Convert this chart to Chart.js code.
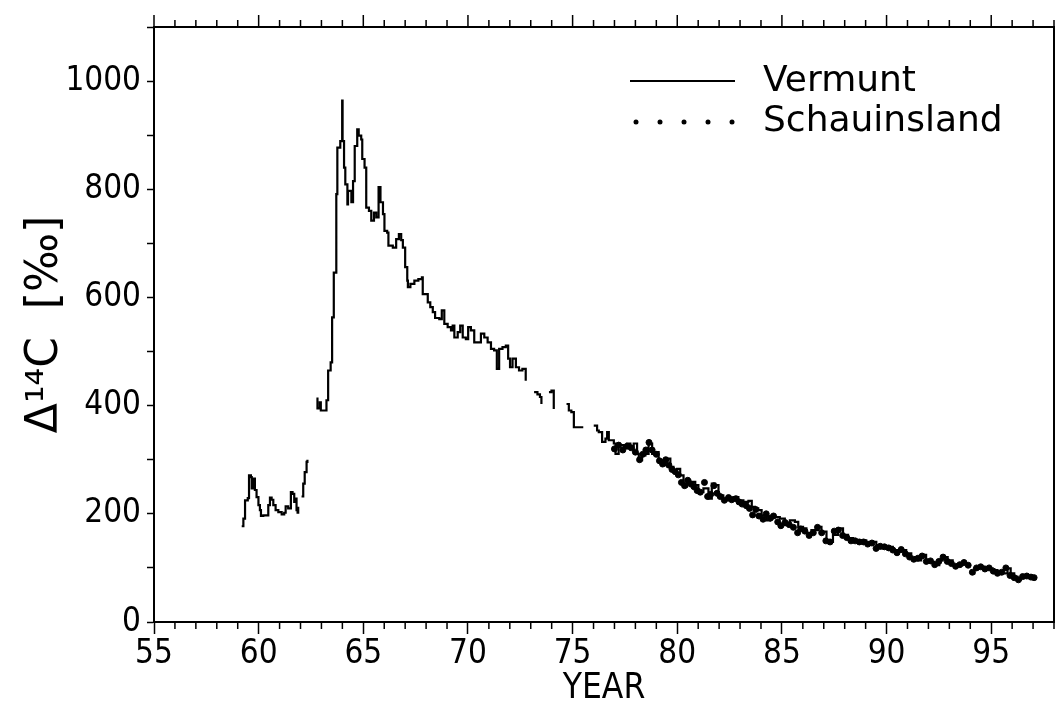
<!DOCTYPE html>
<html>
<head>
<meta charset="utf-8">
<script src="https://cdn.jsdelivr.net/npm/chart.js@4"></script>
<style>
  body { margin: 0; background: #fff; }
  canvas { display: block; }
</style>
</head>
<body>
<canvas id="c14Chart" width="1059" height="706"></canvas>
<script>
// Vermunt record (null = gap in the record)
const vermuntYears = [
  59.19, 59.27, 59.35, 59.48, 59.54, 59.63, 59.67, 59.75, 59.82, 59.90,
  59.99, 60.06, 60.11, 60.22, 60.38, 60.46, 60.54, 60.62, 60.70, 60.81,
  60.94, 61.10, 61.22, 61.29, 61.41, 61.49, 61.54, 61.62, 61.70, 61.76,
  61.81, 61.86, 61.89, 61.95, 62.05, 62.13, 62.20, 62.29, 62.33, 62.50,
  62.76, 62.81, 62.92, 62.97, 63.24, 63.32, 63.44, 63.51, 63.59, 63.71,
  63.76, 63.90, 63.99, 64.01, 64.08, 64.14, 64.24, 64.27, 64.43, 64.51,
  64.59, 64.71, 64.78, 64.90, 64.95, 65.06, 65.14, 65.27, 65.38, 65.51,
  65.62, 65.73, 65.82, 65.94, 66.01, 66.14, 66.20, 66.41, 66.57, 66.70,
  66.81, 66.89, 67.00, 67.10, 67.13, 67.25, 67.44, 67.63, 67.80, 67.84,
  67.92, 68.08, 68.20, 68.32, 68.43, 68.63, 68.75, 68.87, 69.03, 69.19,
  69.27, 69.35, 69.51, 69.63, 69.75, 69.90, 70.01, 70.14, 70.30, 70.49,
  70.62, 70.78, 70.94, 71.10, 71.25, 71.38, 71.49, 71.65, 71.81, 71.92,
  72.01, 72.13, 72.29, 72.44, 72.60, 72.76, 72.90, 73.16, 73.32, 73.44,
  73.51, 73.65, 73.87, 73.99, 74.10, 74.30, 74.71, 74.82, 74.94, 75.06,
  75.22, 75.51, 75.70, 76.01, 76.17, 76.25, 76.41, 76.57, 76.65, 76.73,
  76.97, 77.05, 77.20, 77.44, 77.60, 77.76, 77.92, 78.08, 78.16, 78.32,
  78.48, 78.63, 78.80, 78.95, 79.11, 79.27, 79.43, 79.54, 79.67, 79.82,
  79.99, 80.14, 80.30, 80.46, 80.62, 80.86, 81.01, 81.25, 81.49, 81.65,
  81.81, 81.97, 82.20, 82.44, 82.68, 82.92, 83.16, 83.40, 83.56, 83.71,
  83.87, 84.03, 84.27, 84.43, 84.67, 84.90, 85.14, 85.38, 85.62, 85.78,
  86.01, 86.17, 86.41, 86.73, 86.89, 87.13, 87.29, 87.44, 87.68, 87.92,
  88.16, 88.40, 88.63, 88.87, 89.03, 89.27, 89.51, 89.67, 89.90, 90.06,
  90.30, 90.54, 90.70, 90.94, 91.18, 91.41, 91.65, 91.89, 92.13, 92.29,
  92.52, 92.68, 92.92, 93.16, 93.40, 93.63, 93.87, 93.95, 94.03, 94.19,
  94.43, 94.67, 94.90, 95.06, 95.30, 95.54, 95.78, 95.93, 96.10, 96.25,
  96.41, 96.57, 96.81, 97.05
]
const vermuntValues = [
  177, 191, 225, 229, 271, 268, 247, 265, 244, 231,
  216, 207, 196, 197, 197, 216, 230, 226, 216, 207,
  203, 199, 202, 214, 210, 210, 240, 237, 222, 228,
  207, 202, 213, null, 232, 256, 277, 296, 300, null,
  413, 395, 406, 391, 410, 465, 480, 563, 646, 791,
  877, 889, 964, 889, 840, 809, 772, 797, 776, 815,
  880, 911, 899, 892, 856, 840, 766, 760, 742, 757,
  748, 804, 776, 754, 723, 720, 696, 692, 708, 717,
  706, 692, 656, 631, 619, 625, 631, 634, 637, 606,
  606, 591, 582, 573, 562, 560, 576, 551, 545, 539,
  548, 526, 536, 548, 526, 523, 545, 539, 517, 517,
  533, 526, 517, 505, 502, 468, 505, 508, 511, 487,
  471, 487, 471, 465, 468, 446, null, 425, 421, 416,
  403, null, 425, 428, 394, null, 403, 391, 388, 360,
  360, 360, null, 363, 354, 351, 333, 339, 351, 336,
  330, 311, 327, 323, 330, 320, 330, 311, 299, 308,
  311, 330, 311, 314, 299, 290, 299, 302, 287, 280,
  283, 271, 250, 262, 259, 253, 240, 247, 228, 256,
  253, 234, 225, 228, 231, 225, 222, 224, 213, 210,
  207, 197, 188, 194, 194, 191, 179, 188, 185, 176,
  173, 165, 170, 176, 167, 151, 148, 161, 173, 161,
  155, 148, 151, 151, 145, 148, 142, 136, 139, 139,
  133, 130, 133, 127, 118, 114, 124, 114, 111, 105,
  114, 120, 114, 105, 105, 108, 108, null, 90, 99,
  102, 99, 99, 96, 90, 90, 99, 90, 84, 78,
  81, 84, 84, 81
]

// Schauinsland record
const schauYears = [
  77.00, 77.20, 77.40, 77.60, 77.80, 78.00, 78.20, 78.35, 78.50, 78.65,
  78.80, 79.00, 79.15, 79.30, 79.45, 79.60, 79.75, 79.90, 80.05, 80.20,
  80.35, 80.50, 80.65, 80.80, 80.95, 81.10, 81.30, 81.45, 81.60, 81.75,
  81.90, 82.05, 82.25, 82.45, 82.60, 82.80, 82.95, 83.10, 83.30, 83.45,
  83.60, 83.75, 83.90, 84.10, 84.25, 84.45, 84.60, 84.80, 84.95, 85.15,
  85.35, 85.55, 85.75, 85.90, 86.10, 86.30, 86.50, 86.70, 86.90, 87.10,
  87.30, 87.50, 87.70, 87.90, 88.10, 88.30, 88.50, 88.70, 88.90, 89.10,
  89.30, 89.50, 89.70, 89.90, 90.10, 90.30, 90.50, 90.70, 90.90, 91.10,
  91.30, 91.50, 91.70, 91.90, 92.10, 92.30, 92.50, 92.70, 92.90, 93.10,
  93.30, 93.50, 93.70, 93.90, 94.10, 94.30, 94.50, 94.70, 94.90, 95.10,
  95.30, 95.50, 95.70, 95.90, 96.10, 96.30, 96.50, 96.70, 96.90, 97.05
]
const schauValues = [
  320, 327, 318, 325, 322, 314, 300, 310, 318, 332,
  318, 310, 298, 292, 300, 290, 282, 278, 272, 258,
  252, 262, 255, 250, 243, 240, 258, 232, 236, 252,
  238, 232, 225, 230, 226, 228, 222, 218, 215, 210,
  198, 208, 196, 190, 200, 192, 196, 185, 178, 184,
  180, 175, 165, 172, 168, 160, 165, 175, 165, 150,
  148, 168, 170, 160, 156, 150, 150, 148, 148, 144,
  146, 136, 140, 139, 137, 133, 128, 134, 126, 120,
  116, 118, 122, 112, 113, 106, 112, 120, 112, 108,
  103, 106, 110, 105, 92, 100, 102, 98, 100, 94,
  90, 92, 100, 86, 82, 78, 84, 85, 83, 82
]

const xMin = 55
const xMax = 98
const yMax = 1100

const labelFont = '"DejaVu Sans Condensed", "DejaVu Sans"'

const vermuntPoints = vermuntYears.map((yr, i) => ({ x: yr, y: vermuntValues[i] }))
const schauPoints = schauYears.map((yr, i) => ({ x: yr, y: schauValues[i] }))

// top/right frame, minor year ticks and the in-plot legend
const framePlugin = {
  id: 'frame',
  afterDraw(chart) {
    const { ctx, chartArea: a, scales: { x } } = chart
    ctx.save()
    ctx.strokeStyle = '#000'
    ctx.lineWidth = 2
    ctx.beginPath()
    ctx.moveTo(a.left, a.top)
    ctx.lineTo(a.right, a.top)
    ctx.lineTo(a.right, a.bottom)
    ctx.stroke()

    ctx.lineWidth = 1.5
    for (let yr = xMin; yr <= xMax; yr++) {
      const px = x.getPixelForValue(yr)
      const major = yr % 5 === 0
      ctx.beginPath()
      ctx.moveTo(px, a.top)
      ctx.lineTo(px, a.top - (major ? 12 : 7))
      if (!major) {
        ctx.moveTo(px, a.bottom)
        ctx.lineTo(px, a.bottom + 7)
      }
      ctx.stroke()
    }

    // legend
    ctx.lineWidth = 2
    ctx.beginPath()
    ctx.moveTo(630, 81)
    ctx.lineTo(735, 81)
    ctx.stroke()
    ctx.fillStyle = '#000'
    for (let i = 0; i < 5; i++) {
      ctx.beginPath()
      ctx.arc(636 + i * 24, 122, 2.5, 0, Math.PI * 2)
      ctx.fill()
    }
    ctx.font = '36px "DejaVu Sans"'
    ctx.textBaseline = 'middle'
    ctx.fillText('Vermunt', 763, 82)
    ctx.fillText('Schauinsland', 763, 122)
    ctx.restore()
  }
}

const ctx = document.getElementById('c14Chart').getContext('2d')

new Chart(ctx, {
  type: 'line',
  data: {
    datasets: [
      {
        label: 'Vermunt',
        data: vermuntPoints,
        borderColor: '#000',
        borderWidth: 2.2,
        stepped: true,
        spanGaps: false,
        pointRadius: 0,
        fill: false
      },
      {
        label: 'Schauinsland',
        data: schauPoints,
        showLine: false,
        pointRadius: 3,
        pointBorderWidth: 1,
        pointBorderColor: '#000',
        pointBackgroundColor: '#000'
      }
    ]
  },
  options: {
    responsive: false,
    animation: false,
    layout: { padding: { top: 27, right: 2, left: 0, bottom: 0 } },
    plugins: {
      legend: { display: false },
      tooltip: { enabled: false }
    },
    scales: {
      x: {
        type: 'linear',
        min: xMin,
        max: xMax,
        afterFit: scale => { scale.height = 84 },
        border: { color: '#000', width: 2 },
        grid: { drawOnChartArea: false, tickLength: 12, tickColor: '#000', tickWidth: 1.5 },
        ticks: {
          stepSize: 5,
          includeBounds: false,
          autoSkip: false,
          maxRotation: 0,
          padding: 1,
          color: '#000',
          font: { family: labelFont, size: 33 }
        },
        title: {
          display: true,
          text: 'YEAR',
          color: '#000',
          font: { family: labelFont, size: 35, lineHeight: 1 },
          padding: 0
        }
      },
      y: {
        min: 0,
        max: yMax,
        afterFit: scale => { scale.width = 154 },
        border: { color: '#000', width: 2 },
        grid: { drawOnChartArea: false, tickLength: 7, tickColor: '#000', tickWidth: 1.5 },
        ticks: {
          stepSize: 100,
          autoSkip: false,
          padding: 6,
          color: '#000',
          font: { family: labelFont, size: 33 },
          callback: v => (v % 200 === 0 && v <= 1000 ? v : '')
        },
        title: {
          display: true,
          text: 'Δ¹⁴C  [‰]',
          color: '#000',
          font: { family: 'DejaVu Sans', size: 44 },
          padding: { top: 19, bottom: 0 }
        }
      }
    }
  },
  plugins: [framePlugin]
})
</script>
</body>
</html>
